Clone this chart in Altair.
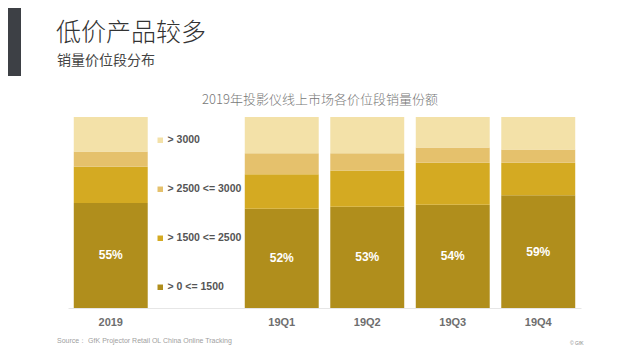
import altair as alt
import pandas as pd

categories = ["2019", "19Q1", "19Q2", "19Q3", "19Q4"]
x_domain = ["2019", " ", "19Q1", "19Q2", "19Q3", "19Q4"]
segments = ["> 0 <= 1500", "> 1500 <= 2500", "> 2500 <= 3000", "> 3000"]
share_0_1500 = [55, 52, 53, 54, 59]
share_1500_2500 = [19, 18, 19, 22, 17]
share_2500_3000 = [8, 11, 9, 8, 7]
share_3000 = [18, 19, 19, 16, 17]
colors = ["#B08E1C", "#D4AA22", "#E5C16C", "#F3E1A8"]

title_text = "低价产品较多"
subtitle_text = "销量价位段分布"
chart_title = "2019年投影仪线上市场各价位段销量份额"
source_text = "Source： GfK Projector Retail OL China Online Tracking"
copyright_text = "© GfK"

rows = []
for i, c in enumerate(categories):
    for k, (seg, vals) in enumerate(zip(segments, [share_0_1500, share_1500_2500, share_2500_3000, share_3000])):
        rows.append({"cat": c, "seg": seg, "order": k, "val": vals[i]})
df = pd.DataFrame(rows)

CJK = "Noto Sans CJK SC"
LAT = "Liberation Sans"

xscale = alt.Scale(domain=x_domain, paddingInner=0.135, paddingOuter=0.0675)

xaxis = alt.Axis(title=None, labelAngle=0, ticks=False, grid=False, labelFont=LAT,
                 labelFontSize=11, labelFontWeight="bold", labelColor="#6e6e6e", labelPadding=8,
                 domainColor="#e6e6e6", domainWidth=1)

bars = alt.Chart(df).mark_bar(strokeWidth=0).encode(
    x=alt.X("cat:N", scale=xscale, axis=xaxis),
    y=alt.Y("val:Q", stack="zero", scale=alt.Scale(domain=[0, 100], nice=False), axis=None),
    color=alt.Color("seg:N",
                    scale=alt.Scale(domain=segments[::-1], range=colors[::-1]),
                    legend=alt.Legend(title=None, orient="none", legendX=87, legendY=18,
                                      symbolType="square", symbolSize=30, symbolStrokeWidth=0,
                                      labelFont=LAT, labelFontSize=10.5, labelFontWeight="bold",
                                      labelColor="#555555", rowPadding=38, padding=0,
                                      labelOffset=2)),
    order=alt.Order("order:Q", sort="ascending"),
)

labels = alt.Chart(df).transform_filter(alt.datum.order == 0).transform_calculate(
    mid="datum.val / 2", lab="datum.val + '%'"
).mark_text(font=LAT, fontSize=12, fontWeight="bold", color="white").encode(
    x=alt.X("cat:N", scale=xscale, axis=xaxis),
    y=alt.Y("mid:Q", axis=None),
    text="lab:N",
)

one = pd.DataFrame({"a": [0]})
deco = alt.Chart(one).mark_rect(color="#3d4045").encode(
    x=alt.value(-60), x2=alt.value(-47), y=alt.value(-109), y2=alt.value(-41))

t1 = alt.Chart(one).mark_text(text=title_text, font=CJK, fontSize=25, fontWeight=300, color="#333333",
                              align="left", baseline="alphabetic").encode(x=alt.value(-12), y=alt.value(-76))
t2 = alt.Chart(one).mark_text(text=subtitle_text, font=CJK, fontSize=14, color="#444444",
                              align="left", baseline="alphabetic").encode(x=alt.value(-11), y=alt.value(-52))
t3 = alt.Chart(one).mark_text(text=chart_title, font=CJK, fontSize=13, fontWeight=300, color="#777777",
                              align="center", baseline="alphabetic").encode(x=alt.value(252), y=alt.value(-13))
t4 = alt.Chart(one).mark_text(text=source_text, font=LAT, fontSize=7, color="#a0a0a0",
                              align="left", baseline="alphabetic").encode(x=alt.value(-11), y=alt.value(226))
t5 = alt.Chart(one).mark_text(text=copyright_text, font=LAT, fontSize=5, color="#888888",
                              align="left", baseline="alphabetic").encode(x=alt.value(502), y=alt.value(228))

chart = alt.layer(bars, labels, deco, t1, t2, t3, t4, t5).properties(
    width=513, height=191,
    background="white",
    autosize=alt.AutoSizeParams(type="none"),
    padding={"left": 60, "top": 109, "right": 40, "bottom": 45},
).configure_view(stroke=None, strokeWidth=0).configure_axis(grid=False)

chart.save("out.html", embed_options={"renderer": "svg", "actions": False})
